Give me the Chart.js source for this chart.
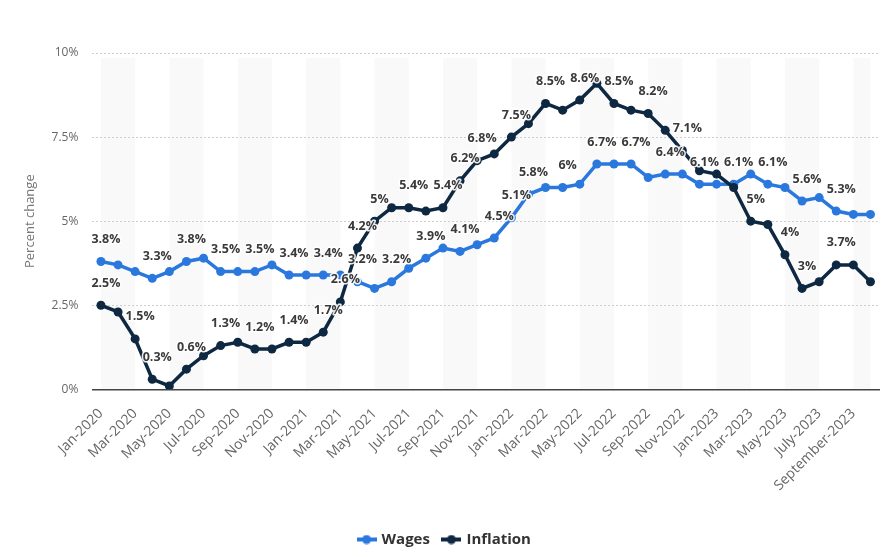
<!DOCTYPE html>
<html>
<head>
<meta charset="utf-8">
<script src="https://cdn.jsdelivr.net/npm/chart.js@4.4.1/dist/chart.umd.min.js"></script>
<style>
  html, body { margin: 0; padding: 0; background: #fff; }
  #wrap { width: 884px; height: 557px; position: relative; }
</style>
</head>
<body>
<div id="wrap"><canvas id="chart"></canvas></div>
<script>
// --- DATA ---
const months = [
  'Jan-2020', 'Feb-2020', 'Mar-2020', 'Apr-2020', 'May-2020', 'Jun-2020', 'Jul-2020', 'Aug-2020', 'Sep-2020', 'Oct-2020', 'Nov-2020', 'Dec-2020',
  'Jan-2021', 'Feb-2021', 'Mar-2021', 'Apr-2021', 'May-2021', 'Jun-2021', 'Jul-2021', 'Aug-2021', 'Sep-2021', 'Oct-2021', 'Nov-2021', 'Dec-2021',
  'Jan-2022', 'Feb-2022', 'Mar-2022', 'Apr-2022', 'May-2022', 'Jun-2022', 'Jul-2022', 'Aug-2022', 'Sep-2022', 'Oct-2022', 'Nov-2022', 'Dec-2022',
  'Jan-2023', 'Feb-2023', 'Mar-2023', 'Apr-2023', 'May-2023', 'June-2023', 'July-2023', 'August-2023', 'September-2023', 'October-2023'
];

const wages = [
  3.8, 3.7, 3.5, 3.3, 3.5, 3.8, 3.9, 3.5, 3.5, 3.5, 3.7, 3.4,
  3.4, 3.4, 3.4, 3.2, 3.0, 3.2, 3.6, 3.9, 4.2, 4.1, 4.3, 4.5,
  5.1, 5.8, 6.0, 6.0, 6.1, 6.7, 6.7, 6.7, 6.3, 6.4, 6.4, 6.1,
  6.1, 6.1, 6.4, 6.1, 6.0, 5.6, 5.7, 5.3, 5.2, 5.2
];

const inflation = [
  2.5, 2.3, 1.5, 0.3, 0.1, 0.6, 1.0, 1.3, 1.4, 1.2, 1.2, 1.4,
  1.4, 1.7, 2.6, 4.2, 5.0, 5.4, 5.4, 5.3, 5.4, 6.2, 6.8, 7.0,
  7.5, 7.9, 8.5, 8.3, 8.6, 9.1, 8.5, 8.3, 8.2, 7.7, 7.1, 6.5,
  6.4, 6.0, 5.0, 4.9, 4.0, 3.0, 3.2, 3.7, 3.7, 3.2
];

// which points carry a value label (the rest are hidden, as in the original)
const wagesLabelAt = [0, 3, 5, 7, 9, 11, 13, 15, 17, 19, 21, 23, 24, 25, 27, 29, 31, 33, 35, 37, 39, 41, 43];
const inflationLabelAt = [0, 2, 3, 5, 7, 9, 11, 13, 14, 15, 16, 18, 20, 21, 22, 24, 26, 28, 30, 32, 34, 38, 40, 41, 43];

const yTicks = [0, 2.5, 5, 7.5, 10];

const BLUE = '#2a78de';
const NAVY = '#0e2842';

// legend icon: short thick line with a dot in the middle
function legendIcon(color) {
  const c = document.createElement('canvas');
  c.width = 20; c.height = 10;
  const g = c.getContext('2d');
  g.fillStyle = color;
  g.fillRect(0, 3, 20, 4);
  g.beginPath();
  g.arc(10, 5, 4.5, 0, Math.PI * 2);
  g.fill();
  return c;
}

// alternating light bands every two months
const bandsPlugin = {
  id: 'bands',
  beforeDraw(chart) {
    const { ctx, chartArea, scales } = chart;
    const x = scales.x;
    ctx.save();
    ctx.fillStyle = '#f9f9f9';
    for (let i = 0; i < months.length - 1; i += 4) {
      const x1 = x.getPixelForValue(i);
      const x2 = x.getPixelForValue(Math.min(i + 2, months.length - 1));
      ctx.fillRect(x1, chartArea.top + 5, x2 - x1, chartArea.bottom - chartArea.top - 5);
    }
    ctx.restore();
  }
};

// value labels above selected points
const valueLabels = {
  id: 'valueLabels',
  afterDatasetsDraw(chart) {
    const { ctx } = chart;
    const lists = [wagesLabelAt, inflationLabelAt];
    ctx.save();
    ctx.font = 'bold 12.5px "Open Sans", sans-serif';
    ctx.textAlign = 'center';
    ctx.textBaseline = 'middle';
    ctx.lineJoin = 'round';
    chart.data.datasets.forEach((ds, di) => {
      const meta = chart.getDatasetMeta(di);
      lists[di].forEach(idx => {
        const pt = meta.data[idx];
        const txt = ds.data[idx] + '%';
        const tx = pt.x + 5, ty = pt.y - 22;
        ctx.strokeStyle = 'rgba(255,255,255,0.9)';
        ctx.lineWidth = 3;
        ctx.strokeText(txt, tx, ty);
        ctx.fillStyle = '#3a3a3a';
        ctx.fillText(txt, tx, ty);
      });
    });
    ctx.restore();
  }
};

const ctx = document.getElementById('chart').getContext('2d');
new Chart(ctx, {
  type: 'line',
  data: {
    labels: months,
    datasets: [{
      label: 'Wages',
      data: wages,
      borderColor: BLUE,
      backgroundColor: BLUE,
      borderWidth: 3.5,
      pointRadius: 4.5,
      pointBorderWidth: 0,
      pointHoverRadius: 4.5,
      tension: 0,
      order: 1
    }, {
      label: 'Inflation',
      data: inflation,
      borderColor: NAVY,
      backgroundColor: NAVY,
      borderWidth: 3.5,
      pointRadius: 4.5,
      pointBorderWidth: 0,
      pointHoverRadius: 4.5,
      tension: 0,
      order: 0
    }]
  },
  options: {
    responsive: true,
    maintainAspectRatio: false,
    animation: false,
    layout: { padding: { left: 11, right: 5, top: 53, bottom: 0 } },
    plugins: {
      tooltip: { enabled: false },
      legend: {
        position: 'bottom',
        labels: {
          usePointStyle: true,
          padding: 14,
          color: '#333',
          font: { family: '"Open Sans", sans-serif', size: 15, weight: 'bold' },
          generateLabels(chart) {
            return chart.data.datasets.map((ds, i) => ({
              text: ds.label,
              pointStyle: legendIcon(ds.borderColor),
              fillStyle: ds.borderColor,
              strokeStyle: ds.borderColor,
              lineWidth: 0,
              fontColor: '#333',
              hidden: false,
              datasetIndex: i
            }));
          }
        }
      }
    },
    scales: {
      x: {
        offset: true,
        grid: { display: false },
        border: { display: true, color: '#444', width: 1.5 },
        afterFit: function (scale) { scale.height += 16; },
        ticks: {
          autoSkip: false,
          maxRotation: 45,
          minRotation: 45,
          padding: 8,
          color: '#666',
          font: { family: '"Open Sans", sans-serif', size: 14 },
          callback: function (v, i) { return i % 2 === 0 ? months[i] : null; }
        }
      },
      y: {
        min: 0,
        max: 10,
        afterBuildTicks: function (axis) { axis.ticks = yTicks.map(v => ({ value: v })); },
        grid: { color: '#cfcfcf', drawTicks: false, lineWidth: 1 },
        border: { display: false, dash: [2, 2] },
        ticks: {
          padding: 14,
          color: '#666',
          font: { family: '"Open Sans", sans-serif', size: 12 },
          callback: function (v) { return v + '%'; }
        },
        title: {
          display: true,
          text: 'Percent change',
          color: '#777',
          padding: { top: 11, bottom: 0 },
          font: { family: '"Open Sans", sans-serif', size: 13 }
        }
      }
    }
  },
  plugins: [bandsPlugin, valueLabels]
});
</script>
</body>
</html>
